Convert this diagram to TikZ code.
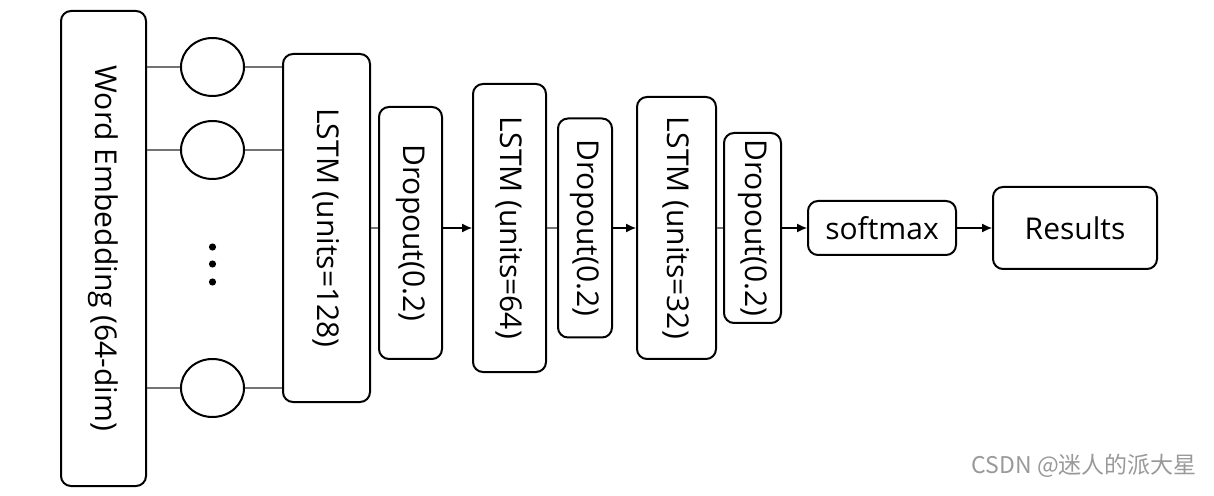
\documentclass[tikz,border=0pt]{standalone}
\usepackage{fontspec}
\setmainfont{Open Sans}
\newfontfamily\cjk{Noto Sans CJK SC}
\usetikzlibrary{positioning,shapes.geometric,arrows.meta}

\begin{document}
\begin{tikzpicture}[x=0.5pt,y=-0.5pt]
\tikzstyle{layer}=[rectangle, rounded corners=5pt, line width=1pt, draw=black, inner sep=0pt, font=\fontsize{15}{18}\selectfont]
\tikzstyle{unit}=[ellipse, minimum width=31.5pt, minimum height=29pt, line width=1pt, draw=black, inner sep=0pt]
\tikzstyle{link}=[draw=black!55, line width=0.6pt]
\tikzstyle{connect}=[-{Latex[length=5pt,width=4.5pt]}, line width=0.6pt]

  \useasboundingbox (0,0) rectangle (1214,496);

  \node[layer, minimum width=42.5pt, minimum height=237.5pt] (emb) at (103.5,248.5) {\rotatebox{-90}{Word Embedding (64-dim)}};
  \node[unit] (u1) at (212.5,67) {};
  \node[unit] (u2) [below=11.5pt of u1] {};
  \node[unit] (u3) at (212.5,388) {};
  \foreach \y in {247,264,282}
    \fill (212.5,\y) circle (1.8pt);

  \node[layer, minimum width=43.5pt, minimum height=174pt] (lstm1) at (326.5,228) {\rotatebox{-90}{LSTM (units=128)}};
  \node[layer, minimum width=31.5pt, minimum height=126pt] (drop1) [right=3.5pt of lstm1, yshift=-2.5pt] {\rotatebox{-90}{Dropout(0.2)}};
  \node[layer, minimum width=36.5pt, minimum height=144pt] (lstm2) [right=14.5pt of drop1, yshift=2.5pt] {\rotatebox{-90}{LSTM (units=64)}};
  \node[layer, minimum width=27pt, minimum height=109.5pt] (drop2) [right=5pt of lstm2] {\rotatebox{-90}{Dropout(0.2)}};
  \node[layer, minimum width=39.5pt, minimum height=131pt] (lstm3) [right=11.5pt of drop2] {\rotatebox{-90}{LSTM (units=32)}};
  \node[layer, minimum width=28.5pt, minimum height=95pt] (drop3) [right=3pt of lstm3] {\rotatebox{-90}{Dropout(0.2)}};
  \node[layer, minimum width=74pt, minimum height=27pt] (soft) [right=12.5pt of drop3] {softmax};
  \node[layer, minimum width=82pt, minimum height=41pt] (res) [right=17.5pt of soft] {Results};

  % embedding -> units -> first LSTM
  \foreach \u in {u1,u2,u3} {
    \path[link] (emb.east |- \u) -- (\u);
    \path[link] (\u) -- (lstm1.west |- \u);
  }
  \path[link] (lstm1) -- (drop1.west |- lstm1);
  \path[link] (lstm2) -- (drop2.west |- lstm2);
  \path[link] (lstm3) -- (drop3.west |- lstm3);
  \path (drop1.east |- lstm2) edge [connect] (lstm2)
        (drop2) edge [connect] (lstm3)
        (drop3) edge [connect] (soft)
        (soft) edge [connect] (res);

  \node[text=black!40, font=\cjk\fontsize{11.5}{14}\selectfont, anchor=east] (mark) at (1204,466) {CSDN @迷人的派大星};
\end{tikzpicture}
\end{document}
